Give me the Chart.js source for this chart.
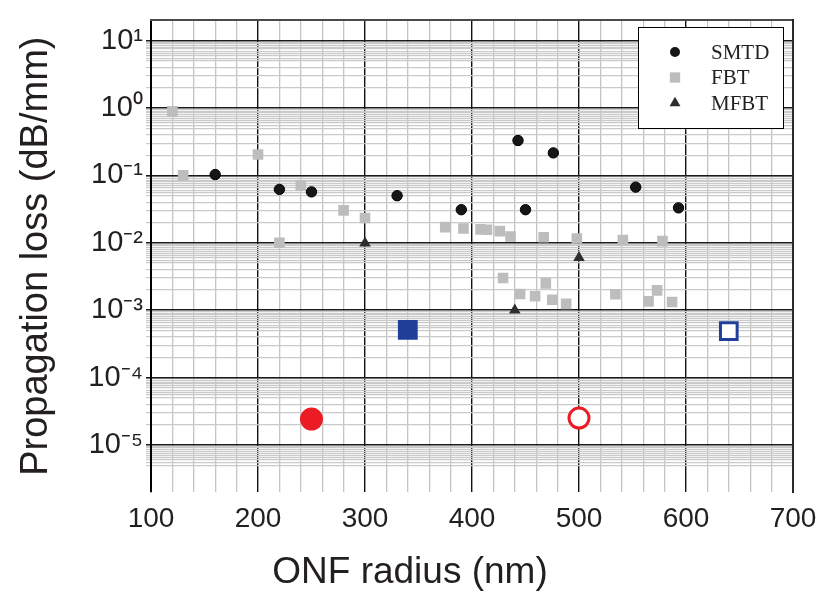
<!DOCTYPE html>
<html><head><meta charset="utf-8">
<script src="https://cdn.jsdelivr.net/npm/chart.js@4.4.0/dist/chart.umd.min.js"></script>
<style>html,body{margin:0;padding:0;background:#fff;}canvas{display:block;}</style>
</head><body>
<canvas id="c" width="830" height="612"></canvas>
<script>
// ---- data ----
const smtdRadius = [160, 220, 250, 330, 390, 443, 450, 476, 553, 593];
const smtdLoss   = [0.103, 0.062, 0.057, 0.050, 0.031, 0.33, 0.031, 0.216, 0.067, 0.033];

const fbtRadius = [120, 130, 200, 220, 240, 280, 300, 375, 392, 408, 414, 426, 436, 467, 498, 541, 578,
                   429, 445, 459, 469, 475, 488, 534, 565, 573, 587];
const fbtLoss   = [0.893, 0.100, 0.204, 0.0100, 0.0708, 0.0303, 0.0233, 0.0171, 0.0163, 0.0158, 0.0156, 0.0149, 0.0124, 0.0121, 0.0116, 0.0110, 0.0106,
                   0.0030, 0.00174, 0.00161, 0.0025, 0.00143, 0.00124, 0.00172, 0.00135, 0.00197, 0.00132];

const mfbtRadius = [300, 440, 500];
const mfbtLoss   = [0.0099, 0.00100, 0.0060];

const redFilledRadius = [250];  const redFilledLoss = [2.42e-5];
const redOpenRadius   = [500];  const redOpenLoss   = [2.5e-5];
const blueFilledRadius = [340]; const blueFilledLoss = [5.1e-4];
const blueOpenRadius   = [640]; const blueOpenLoss   = [4.9e-4];

const seriesNames = ['SMTD', 'FBT', 'MFBT'];
const xTickLabels = [100, 200, 300, 400, 500, 600, 700];
const xMinorStep = 20;
const yTickExponents = [-5, -4, -3, -2, -1, 0, 1];
const yMinorMultipliers = [2, 3, 4, 5, 5.5, 6, 6.5, 7, 7.5, 8, 8.5, 9, 9.5];
const yMin = 2e-6, yMax = 20, yGridFloor = 5e-6;
const xTitle = 'ONF radius (nm)';
const yTitle = 'Propagation loss (dB/mm)';

// ---- helpers ----
const SUP = {'-':'\u207B','0':'\u2070','1':'\u00B9','2':'\u00B2','3':'\u00B3','4':'\u2074','5':'\u2075','6':'\u2076'};
const powerLabel = e => '10' + String(e).split('').map(c => SUP[c]).join('');
const isPow10 = v => Math.abs(Math.log10(v) - Math.round(Math.log10(v))) < 1e-9;
const pts = (xs, ys) => xs.map((x, i) => ({x, y: ys[i]}));

const yGridValues = [];
for (let e = Math.min(...yTickExponents) - 1; e <= Math.max(...yTickExponents); e++) {
  [1, ...yMinorMultipliers].forEach(m => {
    const v = m * Math.pow(10, e);
    if (v >= yGridFloor * 0.999 && v <= Math.pow(10, Math.max(...yTickExponents)) * 1.0001) yGridValues.push(v);
  });
}

const FONT = "'Liberation Sans', Arial, Helvetica, sans-serif";
const TXT = '#231f20';

const boxLegend = {
  id: 'boxLegend',
  afterDatasetsDraw(chart, args, o) {
    const ctx = chart.ctx;
    ctx.save();
    ctx.fillStyle = '#fff';
    ctx.fillRect(o.left, o.top, o.width, o.height);
    ctx.strokeStyle = '#000';
    ctx.lineWidth = 1;
    ctx.strokeRect(o.left + 0.5, o.top + 0.5, o.width, o.height);
    const items = chart.data.datasets.filter(d => seriesNames.includes(d.label));
    items.forEach((d, i) => {
      const y = o.firstRow + i * o.rowGap;
      ctx.fillStyle = d.backgroundColor;
      ctx.strokeStyle = d.backgroundColor;
      Chart.helpers.drawPoint(ctx, {pointStyle: d.pointStyle, radius: d.legendRadius, borderWidth: 0, rotation: 0}, o.markerX, y);
      ctx.fillStyle = TXT;
      ctx.font = o.font;
      ctx.textAlign = 'left';
      ctx.textBaseline = 'middle';
      ctx.fillText(d.label, o.textX, y + 1);
    });
    ctx.restore();
  }
};

new Chart(document.getElementById('c'), {
  type: 'scatter',
  data: {
    datasets: [
      {label: seriesNames[0], data: pts(smtdRadius, smtdLoss), pointStyle: 'circle', pointRadius: 5.2,
       backgroundColor: '#161616', borderColor: '#000', borderWidth: 1, legendRadius: 5},
      {label: seriesNames[1], data: pts(fbtRadius, fbtLoss), pointStyle: 'rect', pointRadius: 7.5,
       backgroundColor: '#bdbdbd', borderColor: '#bdbdbd', borderWidth: 0, legendRadius: 7.3},
      {label: seriesNames[2], data: pts(mfbtRadius, mfbtLoss), pointStyle: 'triangle', pointRadius: 6.7,
       backgroundColor: '#2e2e2e', borderColor: '#2e2e2e', borderWidth: 0, legendRadius: 6.3},
      {label: 'Red (filled)', data: pts(redFilledRadius, redFilledLoss), pointStyle: 'circle', pointRadius: 11.5,
       backgroundColor: '#ec1c24', borderWidth: 0},
      {label: 'Red (open)', data: pts(redOpenRadius, redOpenLoss), pointStyle: 'circle', pointRadius: 10,
       backgroundColor: '#ffffff', borderColor: '#ec1c24', borderWidth: 3},
      {label: 'Blue (filled)', data: pts(blueFilledRadius, blueFilledLoss), pointStyle: 'rect', pointRadius: 14,
       backgroundColor: '#1f3f99', borderColor: '#1f3f99', borderWidth: 0},
      {label: 'Blue (open)', data: pts(blueOpenRadius, blueOpenLoss), pointStyle: 'rect', pointRadius: 11.8,
       backgroundColor: '#ffffff', borderColor: '#1f3f99', borderWidth: 3}
    ]
  },
  options: {
    responsive: false,
    animation: false,
    devicePixelRatio: 1,
    layout: {padding: {left: 0, right: 10, top: 0, bottom: 0}},
    plugins: {
      legend: {display: false},
      tooltip: {enabled: false},
      title: {display: true, text: xTitle, position: 'bottom', color: TXT,
              font: {family: FONT, size: 37, weight: 'normal'}, padding: {top: 0, bottom: 17}},
      boxLegend: {left: 638, top: 27, width: 145, height: 101, markerX: 675, textX: 711,
                  firstRow: 52, rowGap: 25.5, font: "21px 'Liberation Serif', 'Times New Roman', serif"}
    },
    scales: {
      x: {
        type: 'linear', position: 'bottom', min: xTickLabels[0], max: xTickLabels[xTickLabels.length - 1],
        afterBuildTicks: s => {
          const t = [];
          for (let v = xTickLabels[0]; v <= xTickLabels[xTickLabels.length - 1]; v += xMinorStep) t.push({value: v});
          s.ticks = t;
        },
        afterFit: s => { s.height = 58.6; },
        ticks: {autoSkip: false, maxRotation: 0, padding: 10, color: TXT,
                font: {family: FONT, size: 28},
                callback: v => xTickLabels.includes(v) ? String(v) : ''},
        grid: {drawTicks: false,
               color: c => (c.tick && xTickLabels.includes(c.tick.value)) ? '#111111' : '#c4c4c4',
               lineWidth: c => (c.tick && xTickLabels.includes(c.tick.value)) ? 1.4 : 1.3},
        border: {display: false}
      },
      y: {
        type: 'logarithmic', position: 'left', min: yMin, max: yMax,
        afterBuildTicks: s => { s.ticks = yGridValues.map(v => ({value: v})); },
        afterFit: s => { s.width = 151; },
        ticks: {autoSkip: false, padding: 3, color: TXT, font: {family: FONT, size: 29},
                callback: v => isPow10(v) && yTickExponents.includes(Math.round(Math.log10(v))) ? powerLabel(Math.round(Math.log10(v))) : ''},
        grid: {drawTicks: true, tickLength: 5,
               color: c => (c.tick && isPow10(c.tick.value)) ? '#1a1a1a' : '#cacaca',
               lineWidth: c => (c.tick && isPow10(c.tick.value)) ? 1.5 : 1.2},
        border: {display: true, color: '#000', width: 2},
        title: {display: true, text: yTitle, color: TXT, font: {family: FONT, size: 38}, padding: {top: 14, bottom: 0}}
      },
      xTop: {
        type: 'linear', position: 'top', min: 0, max: 1, display: true,
        afterFit: s => { s.height = 19; },
        ticks: {display: false}, grid: {display: false},
        border: {display: true, color: '#4a4a4a', width: 2}
      },
      yRight: {
        type: 'linear', position: 'right', min: 0, max: 1, display: true,
        afterFit: s => { s.width = 27; },
        ticks: {display: false}, grid: {display: false},
        border: {display: true, color: '#2a2a2a', width: 2}
      }
    }
  },
  plugins: [boxLegend]
});
</script>
</body></html>
